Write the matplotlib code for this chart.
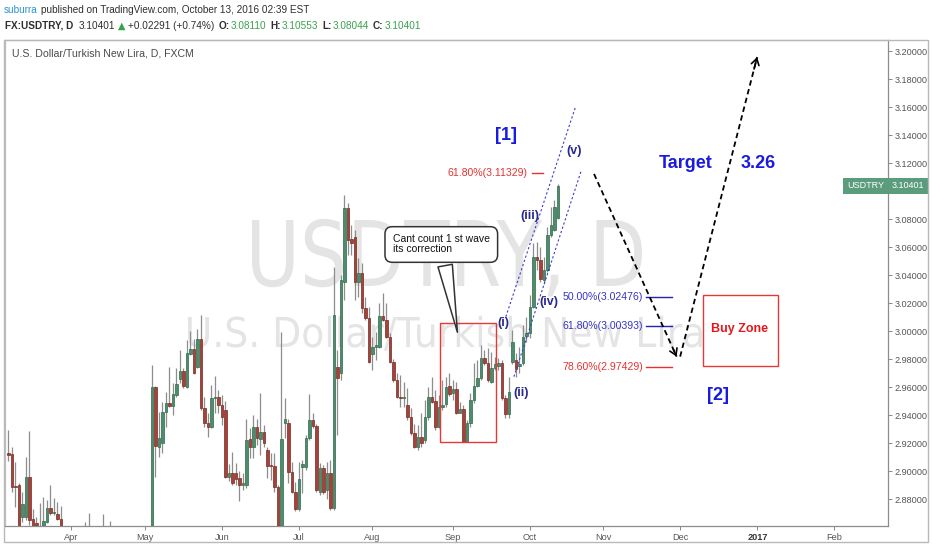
import numpy as np
import pandas as pd
import matplotlib
matplotlib.use('Agg')
import matplotlib.pyplot as plt
import matplotlib.transforms as mtransforms
from matplotlib.patches import Rectangle, PathPatch
from matplotlib.textpath import TextPath
from matplotlib.font_manager import FontProperties, fontManager

# FX:USDTRY daily bars (FXCM), 2016-03-08 .. 2016-10-13, one row per month
first_day = '2016-03-08'
last_axis_day = '2017-02-28'

opens = [
    2.9133, 2.9121, 2.8895, 2.8902, 2.8676, 2.8676, 2.8961, 2.8659, 2.8627, 2.8590,
    2.8570, 2.8640, 2.8736, 2.8700, 2.8693, 2.8659, 2.8550, 2.8460,
    2.8250, 2.8300, 2.8380, 2.8510, 2.8450, 2.8550, 2.8470, 2.8340, 2.8260, 2.8410,
    2.8560, 2.8420, 2.8530, 2.8300, 2.8240, 2.8330, 2.8400, 2.8350, 2.8260, 2.8300, 2.8120,
    2.8060, 2.8190, 2.8420, 2.9600, 2.9175, 2.9200, 2.9422, 2.9490, 2.9467, 2.9545,
    2.9659, 2.9718, 2.9605, 2.9838, 2.9874, 2.9743, 2.9943, 2.9450, 2.9347, 2.9319, 2.9521, 2.9533,
    2.9473, 2.9440, 2.8961, 2.8990, 2.8985, 2.8950, 2.8902, 2.8902, 2.9230, 2.9176,
    2.9319, 2.9231, 2.9283, 2.9152, 2.9045, 2.9038, 2.8890, 2.8560, 2.9343, 2.9343, 2.8997, 2.8854,
    2.8729, 2.9030, 2.9033, 2.9236, 2.9366, 2.9324, 2.8854, 2.9021, 2.8870, 2.8990,
    2.8738, 2.9747, 2.9700, 3.0354, 3.0879, 3.0657, 3.0676, 3.0354, 3.0419, 3.0164, 3.0093,
    2.9838, 2.9888, 2.9890, 3.0109, 3.0081, 2.9962, 2.9783, 2.9652, 2.9533, 2.9521,
    2.9473, 2.9390, 2.9271, 2.9176, 2.9247, 2.9224, 2.9390, 2.9529, 2.9504, 2.9319, 2.9462, 2.9481, 2.9609,
    2.9557, 2.9586, 2.9419, 2.9443, 2.9210, 2.9343, 2.9509, 2.9609, 2.9664, 2.9807,
    2.9771, 2.9640, 2.9736, 2.9750, 2.9776, 2.9521, 2.9410, 2.9783, 2.9795, 2.9750, 2.9771, 2.9966,
    2.9986, 3.0176, 3.0533, 3.0509, 3.0366, 3.0438, 3.0688, 3.0724, 3.0811,
]
highs = [
    2.9295, 2.9174, 2.9066, 2.8914, 2.8854, 2.9104, 2.9290, 2.8729, 2.8676, 2.8771,
    2.8819, 2.8795, 2.8900, 2.8807, 2.8779, 2.8754, 2.8590, 2.8520,
    2.8380, 2.8420, 2.8560, 2.8580, 2.8640, 2.8700, 2.8530, 2.8420, 2.8450, 2.8695,
    2.8590, 2.8645, 2.8570, 2.8400, 2.8370, 2.8450, 2.8480, 2.8420, 2.8380, 2.8330, 2.8200,
    2.8250, 2.8480, 2.9757, 2.9610, 2.9426, 2.9497, 2.9569, 2.9747, 2.9633, 2.9736,
    2.9866, 2.9736, 2.9938, 3.0004, 2.9943, 3.0020, 3.0116, 2.9533, 2.9414, 2.9616, 2.9681, 2.9581,
    2.9545, 2.9500, 2.9050, 2.9140, 2.9060, 2.9003, 2.8990, 2.9371, 2.9307, 2.9402,
    2.9371, 2.9557, 2.9330, 2.9176, 2.9128, 2.9128, 2.8900, 2.9997, 2.9521, 2.9371, 2.9069, 2.8926,
    2.9069, 2.9081, 2.9260, 2.9552, 2.9414, 2.9340, 2.9057, 2.9045, 2.9069, 2.9081,
    3.0462, 2.9866, 3.0400, 3.0973, 3.0914, 3.0759, 3.0724, 3.0521, 3.0486, 3.0247, 3.0176,
    2.9962, 2.9998, 3.0200, 3.0271, 3.0200, 2.9990, 2.9805, 2.9700, 2.9688, 2.9640,
    2.9593, 2.9450, 2.9340, 2.9330, 2.9414, 2.9509, 2.9604, 2.9676, 2.9581, 2.9545, 2.9652, 2.9676, 2.9700,
    2.9652, 2.9640, 2.9497, 2.9474, 2.9366, 2.9557, 2.9771, 2.9795, 2.9902, 2.9866,
    2.9878, 2.9854, 2.9819, 2.9810, 2.9795, 2.9545, 2.9676, 3.0009, 2.9843, 2.9890, 3.0045, 3.0104,
    3.0259, 3.0629, 3.0640, 3.0605, 3.0533, 3.0747, 3.0890, 3.0938, 3.1055,
]
lows = [
    2.9076, 2.8854, 2.8747, 2.8480, 2.8640, 2.8652, 2.8616, 2.8540, 2.8580, 2.8500,
    2.8530, 2.8628, 2.8688, 2.8688, 2.8652, 2.8520, 2.8420, 2.8180,
    2.8150, 2.8240, 2.8330, 2.8400, 2.8400, 2.8420, 2.8300, 2.8200, 2.8230, 2.8380,
    2.8380, 2.8400, 2.8260, 2.8190, 2.8180, 2.8290, 2.8310, 2.8220, 2.8180, 2.8070, 2.8000,
    2.8020, 2.8150, 2.8400, 2.8961, 2.9104, 2.9128, 2.9319, 2.9461, 2.9402, 2.9533,
    2.9629, 2.9593, 2.9593, 2.9831, 2.9695, 2.9736, 2.9438, 2.9319, 2.9247, 2.9307, 2.9414, 2.9414,
    2.9331, 2.8950, 2.8930, 2.8900, 2.8900, 2.8790, 2.8866, 2.8880, 2.9093, 2.9093,
    2.9188, 2.9116, 2.9176, 2.8950, 2.8938, 2.8854, 2.8520, 2.8520, 2.9236, 2.8914, 2.8843, 2.8717,
    2.8717, 2.8843, 2.9010, 2.9224, 2.9310, 2.8850, 2.8831, 2.8835, 2.8800, 2.8724,
    2.8724, 2.9259, 2.9650, 3.0224, 3.0545, 3.0545, 3.0224, 3.0247, 3.0128, 3.0081, 2.9771,
    2.9724, 2.9795, 2.9879, 3.0074, 2.9950, 2.9771, 2.9640, 2.9521, 2.9462, 2.9462,
    2.9369, 2.9260, 2.9166, 2.9152, 2.9176, 2.9200, 2.9366, 2.9486, 2.9295, 2.9307, 2.9438, 2.9462, 2.9538,
    2.9509, 2.9409, 2.9414, 2.9207, 2.9207, 2.9319, 2.9486, 2.9605, 2.9650, 2.9760,
    2.9640, 2.9628, 2.9724, 2.9724, 2.9510, 2.9379, 2.9379, 2.9770, 2.9676, 2.9700, 2.9760, 2.9926,
    2.9950, 3.0164, 3.0438, 3.0354, 3.0340, 3.0426, 3.0676, 3.0714, 3.0804,
]
closes = [
    2.9116, 2.8890, 2.8888, 2.8550, 2.8766, 2.8961, 2.8652, 2.8580, 2.8620, 2.8570,
    2.8645, 2.8736, 2.8700, 2.8712, 2.8657, 2.8550, 2.8460, 2.8250,
    2.8300, 2.8380, 2.8510, 2.8450, 2.8550, 2.8470, 2.8340, 2.8260, 2.8410, 2.8560,
    2.8420, 2.8530, 2.8300, 2.8240, 2.8330, 2.8400, 2.8350, 2.8260, 2.8300, 2.8120, 2.8060,
    2.8190, 2.8420, 2.9600, 2.9181, 2.9236, 2.9426, 2.9490, 2.9467, 2.9550, 2.9624,
    2.9718, 2.9609, 2.9843, 2.9874, 2.9700, 2.9943, 2.9450, 2.9347, 2.9319, 2.9521, 2.9526, 2.9473,
    2.9390, 2.8961, 2.8985, 2.8919, 2.8942, 2.8902, 2.8920, 2.9224, 2.9176, 2.9319,
    2.9236, 2.9283, 2.9200, 2.9038, 2.9038, 2.8890, 2.8560, 2.9228, 2.9371, 2.8997, 2.8854, 2.8729,
    2.8943, 2.9050, 2.9236, 2.9366, 2.9324, 2.8866, 2.9021, 2.8854, 2.8990, 2.8738,
    3.0116, 2.9664, 3.0366, 3.0879, 3.0652, 3.0633, 3.0354, 3.0414, 3.0164, 3.0093, 2.9783,
    2.9890, 2.9900, 3.0109, 3.0081, 2.9962, 2.9783, 2.9652, 2.9533, 2.9521, 2.9533,
    2.9390, 2.9271, 2.9176, 2.9247, 2.9200, 2.9390, 2.9529, 2.9497, 2.9319, 2.9462, 2.9476, 2.9604, 2.9552,
    2.9586, 2.9419, 2.9443, 2.9210, 2.9343, 2.9509, 2.9609, 2.9664, 2.9807, 2.9771,
    2.9652, 2.9736, 2.9764, 2.9771, 2.9521, 2.9410, 2.9569, 2.9926, 2.9729, 2.9766, 2.9962, 2.9990,
    3.0176, 3.0533, 3.0509, 3.0371, 3.0438, 3.0688, 3.0759, 3.0890, 3.1040,
]

price_ticks = [2.88, 2.90, 2.92, 2.94, 2.96, 2.98, 3.00, 3.02, 3.04, 3.06,
               3.08, 3.10, 3.12, 3.14, 3.16, 3.18, 3.20]
month_labels = ['Apr', 'May', 'Jun', 'Jul', 'Aug', 'Sep', 'Oct', 'Nov', 'Dec', '2017', 'Feb']

fib_pcts = [61.80, 50.00, 61.80, 78.60]
fib_levels = [3.11329, 3.02476, 3.00393, 2.97429]
fib_colors = ['#e8312f', '#3535c4', '#3535c4', '#e8312f']
fib_line_colors = ['#e8312f', '#2323b8', '#2323b8', '#e8312f']

wave_labels = ['(i)', '(ii)', '(iii)', '(iv)', '(v)']

last = {'o': 3.08110, 'h': 3.10553, 'l': 3.08044, 'c': 3.10401, 'chg': 0.02291, 'pct': 0.74}

# fonts
names = {f.name for f in fontManager.ttflist}
NARROW = 'Liberation Sans Narrow' if 'Liberation Sans Narrow' in names else 'Liberation Sans'
NS = 1.0 if NARROW == 'Liberation Sans Narrow' else 0.86
SANS = 'Liberation Sans'
plt.rcParams['font.family'] = [NARROW, 'DejaVu Sans']

n = len(closes)
assert len(opens) == len(highs) == len(lows) == n
days = pd.bdate_range(first_day, last_axis_day)
assert days[n - 1] == pd.Timestamp('2016-10-13')
pos = np.arange(n)

o = np.array(opens); h = np.array(highs); l = np.array(lows); c = np.array(closes)

W, H = 932, 550
fig = plt.figure(figsize=(W / 100, H / 100), dpi=100)
fig.patch.set_facecolor('white')
ax = fig.add_axes([5 / W, 1 - 526 / H, 883 / W, 486 / H])
ax.set_facecolor('white')
ax.set_xlim(-1.0, 251.29)
ax.set_ylim(2.86093, 3.20807)


def watermark(text, x0, x1, cap_top, base):
    # pixel box -> axes fraction, text stretched to fit
    fp = FontProperties(family='DejaVu Sans')
    tp = TextPath((0, 0), text, size=100, prop=fp)
    cap = TextPath((0, 0), 'U', size=100, prop=fp).get_extents().y1
    e = tp.get_extents()
    fx0 = (x0 - 5) / 883
    fx1 = (x1 - 5) / 883
    fb = (526 - base) / 486
    fc = (base - cap_top) / 486
    tr = (mtransforms.Affine2D().translate(-e.x0, 0)
          .scale((fx1 - fx0) / e.width, fc / cap).translate(fx0, fb) + ax.transAxes)
    ax.add_patch(PathPatch(tp, transform=tr, fc='#e4e4e4', ec='none', zorder=0))


watermark('USDTRY, D', 252, 642, 220, 286)
watermark('U.S. Dollar/Turkish New Lira', 188, 702, 317, 347)

# candles
up = c >= o
body_lo = np.minimum(o, c)
body_h = np.maximum(np.abs(c - o), 0.0008)
ax.vlines(pos, l, h, color='#8d8d8d', lw=0.9, zorder=2)
ax.bar(pos, body_h, bottom=body_lo, width=0.66,
       color=np.where(up, '#4e8d6c', '#a5433a'),
       edgecolor=np.where(up, '#2e6a4c', '#772a23'), linewidth=0.5, zorder=3)

# axes styling
ax.yaxis.tick_right()
ax.set_yticks(price_ticks)
# the 3.10 label sits under the last-price box
ax.set_yticklabels(['' if abs(v - 3.10) < 1e-9 else f'{v:.5f}' for v in price_ticks])
month_start = [i for i in range(1, len(days)) if days[i].month != days[i - 1].month]
ax.set_xticks(month_start)
ax.set_xticklabels(month_labels)
ax.tick_params(axis='y', length=3, width=0.7, color='#888888', pad=2,
               labelsize=7.7 * NS, labelcolor='#555555')
ax.tick_params(axis='x', length=3, width=0.7, color='#888888', pad=2,
               labelsize=7.7 * NS, labelcolor='#555555')
for lbl in ax.get_xticklabels():
    if lbl.get_text() == '2017':
        lbl.set_fontweight('bold')
        lbl.set_color('#333333')
for side, col in [('top', '#c4c4c4'), ('left', '#bdbdbd'), ('right', '#8c8c8c'), ('bottom', '#8c8c8c')]:
    ax.spines[side].set_color(col)
    ax.spines[side].set_linewidth(0.9)

fig.add_artist(Rectangle((4 / W, 1 - 542 / H), 924 / W, 502 / H, transform=fig.transFigure,
                         fill=False, ec='#b8b8b8', lw=1.0))

# current price labels
ytr = ax.get_yaxis_transform()
lbl_green = '#5a9c7c'
ax.text(1.0 - 4.0 / 883, last['c'], 'USDTRY', transform=ytr, ha='right', va='center',
        color='white', fontsize=7.5 * NS, zorder=10, clip_on=False,
        bbox=dict(boxstyle='square,pad=0.4', fc=lbl_green, ec='none'))
ax.text(1.0 + 4.0 / 883, last['c'], f"{last['c']:.5f}", transform=ytr, ha='left', va='center',
        color='white', fontsize=7.5 * NS, zorder=10, clip_on=False,
        bbox=dict(boxstyle='square,pad=0.4', fc=lbl_green, ec='none'))

# header: pieces laid out one after another
renderer = fig.canvas.get_renderer()


def header_line(y, x, pieces, size):
    for s, gap, kw in pieces:
        x += gap
        kw = dict(kw)
        kw.setdefault('color', '#2f2f2f')
        kw.setdefault('fontsize', size)
        t = fig.text(x / W, 1 - y / H, s, ha='left', va='center', **kw)
        x = t.get_window_extent(renderer).x1


up_green = '#39a14f'
hsize = 8.4 * NS
header_line(10, 4, [('suburra', 0, dict(color='#2a95d0')),
                    ('published on TradingView.com, October 13, 2016 02:39 EST', 3, {})], hsize)
header_line(26, 5, [('FX:USDTRY, D', 0, dict(fontweight='bold')),
                    (f"{last['c']:.5f}", 5, {}),
                    ('\u25b2', 3, dict(color=up_green, family='DejaVu Sans', fontsize=7)),
                    (f"+{last['chg']:.5f} (+{last['pct']:.2f}%)", 3, {}),
                    ('O:', 4, dict(fontweight='bold')), (f"{last['o']:.5f}", 1, dict(color=up_green)),
                    ('H:', 4, dict(fontweight='bold')), (f"{last['h']:.5f}", 1, dict(color=up_green)),
                    ('L:', 4, dict(fontweight='bold')), (f"{last['l']:.5f}", 1, dict(color=up_green)),
                    ('C:', 4, dict(fontweight='bold')), (f"{last['c']:.5f}", 1, dict(color=up_green))],
            hsize)
fig.text(12 / W, 1 - 54 / H, 'U.S. Dollar/Turkish New Lira, D, FXCM', ha='left', va='center',
         fontsize=8.8 * NS, color='#4a4a4a')

# Elliott wave channel
chan = dict(color='#3a3ad2', lw=0.8, ls=(0, (2, 2)), zorder=4)
ax.plot([142.1, 161.9], [3.0104, 3.1595], **chan)
ax.plot([144.4, 163.7], [2.9676, 3.1152], **chan)

# boxes
ax.add_patch(Rectangle((123.3, 2.9209), 16.0, 0.0850, fill=False, ec='#e53935', lw=1.0, zorder=4))
ax.add_patch(Rectangle((198.4, 2.9752), 21.5, 0.0507, fill=False, ec='#e53935', lw=1.0, zorder=4))
ax.text(209.0, 3.0016, 'Buy Zone', ha='center', va='center', color='#e3171b',
        fontsize=9, fontweight='bold', family=SANS, zorder=6)

# wave labels
wave_pos = [(141.3, 3.0059), (146.4, 2.9559), (149.0, 3.0824), (154.4, 3.0209), (161.6, 3.1288)]
for s, (xw, yw) in zip(wave_labels, wave_pos):
    ax.text(xw, yw, s, ha='center', va='center', color='#28288e', fontsize=9,
            fontweight='bold', family=SANS, zorder=6)

big = dict(ha='center', va='center', color='#1a1ae0', fontweight='bold', family=SANS, zorder=6)
ax.text(142.1, 3.1395, '[1]', fontsize=13, **big)
ax.text(202.7, 2.9545, '[2]', fontsize=13, **big)
ax.text(193.6, 3.1202, 'Target', fontsize=13, **big)
ax.text(214.1, 3.1202, '3.26', fontsize=13, **big)

# fib levels
fib_x = [(148.4, 149.6, 152.7), (181.3, 182.1, 189.6), (181.3, 182.1, 189.6), (181.3, 182.1, 189.6)]
for pct, lvl, tc, lc, (xt, xa, xb) in zip(fib_pcts, fib_levels, fib_colors, fib_line_colors, fib_x):
    ax.text(xt, lvl, f'{pct:.2f}%({lvl:.5f})', ha='right', va='center', color=tc,
            fontsize=7.6, family=SANS, zorder=6)
    ax.plot([xa, xb], [lvl, lvl], color=lc, lw=1.0, zorder=5)

# projected path
dash = dict(color='black', lw=1.3, ls=(0, (3, 2)), zorder=5)
legs = [((167.3, 3.1124), (190.9, 2.9819)), ((191.9, 2.9819), (213.9, 3.1959))]
for (x0, y0), (x1, y1) in legs:
    ax.plot([x0, x1], [y0, y1], **dash)
    ax.annotate('', xy=(x1, y1), xytext=(x1 - 0.04 * (x1 - x0), y1 - 0.04 * (y1 - y0)),
                arrowprops=dict(arrowstyle='->,head_length=0.45,head_width=0.28', color='black',
                                lw=1.2, shrinkA=0, shrinkB=0), zorder=5)

# callout
ax.annotate('Cant count 1 st wave\nits correction', xy=(128.4, 2.9974), xytext=(109.8, 3.0620),
            textcoords='data', ha='left', va='center', fontsize=7.5, family=SANS, color='#111111',
            linespacing=1.0, zorder=7,
            bbox=dict(boxstyle='round,pad=0.75,rounding_size=0.7', fc='white', ec='#333333', lw=1.1),
            arrowprops=dict(arrowstyle='wedge,tail_width=1.4,shrink_factor=0.5', fc='white',
                            ec='#333333', lw=1.1))

fig.savefig('out.png', dpi=100)
